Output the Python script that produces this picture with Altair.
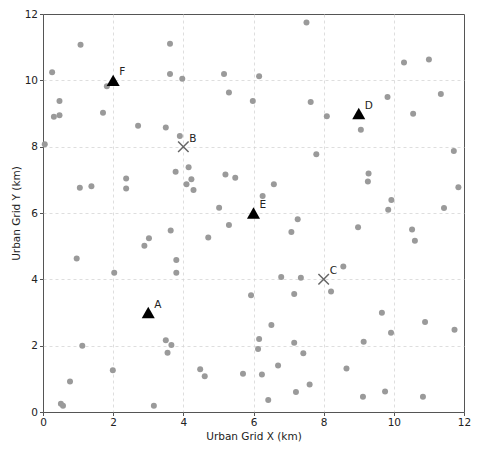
import altair as alt
import pandas as pd

# Background sample points (km)
pt_x = [1.07, 3.62, 0.26, 3.62, 1.82, 0.47, 0.31, 0.47, 1.71, 2.71, 3.50, 0.05,
        7.51, 3.97, 5.16, 6.16, 5.30, 5.98, 7.63, 3.90, 10.29, 11.00, 9.82, 11.34,
        8.09, 10.55, 9.06, 11.71, 7.79, 1.05, 1.38, 2.37, 2.37, 3.78, 3.64, 3.02,
        2.89, 0.96, 2.03, 3.80, 3.80, 4.15, 4.23, 4.09, 4.29, 5.20, 5.48, 6.58,
        6.26, 5.02, 5.30, 4.71, 7.26, 7.08, 6.79, 7.35, 9.28, 9.26, 11.84, 9.93,
        9.84, 11.43, 8.98, 10.52, 10.60, 8.56, 8.21, 1.12, 3.50, 3.66, 3.55, 1.99,
        0.77, 0.51, 0.57, 3.16, 5.93, 7.16, 6.51, 6.16, 6.13, 7.16, 7.42, 6.70,
        4.48, 4.61, 5.70, 6.24, 7.60, 7.21, 6.42, 9.66, 10.89, 11.73, 9.92, 9.14,
        8.65, 9.12, 9.75, 10.83]
pt_y = [11.07, 11.10, 10.24, 10.19, 9.82, 9.38, 8.90, 8.95, 9.02, 8.63, 8.58, 8.07,
        11.74, 10.05, 10.19, 10.12, 9.63, 9.38, 9.35, 8.32, 10.54, 10.63, 9.50, 9.59,
        8.92, 8.99, 8.51, 7.87, 7.77, 6.76, 6.81, 7.04, 6.74, 7.24, 5.47, 5.24,
        5.01, 4.63, 4.20, 4.58, 4.20, 7.38, 7.02, 6.87, 6.69, 7.16, 7.06, 6.87,
        6.51, 6.16, 5.64, 5.26, 5.81, 5.43, 4.07, 4.05, 7.19, 6.95, 6.78, 6.39,
        6.10, 6.15, 5.57, 5.50, 5.16, 4.39, 3.63, 2.00, 2.16, 2.02, 1.79, 1.26,
        0.92, 0.25, 0.19, 0.19, 3.52, 3.56, 2.62, 2.20, 1.90, 2.09, 1.77, 1.40,
        1.29, 1.08, 1.15, 1.13, 0.83, 0.60, 0.36, 2.99, 2.71, 2.48, 2.39, 2.12,
        1.31, 0.46, 0.62, 0.46]

# Triangle sites
tri_name = ["A", "D", "E", "F"]
tri_x = [3, 9, 6, 2]
tri_y = [3, 9, 6, 10]

# Cross sites
cross_name = ["B", "C"]
cross_x = [4, 8]
cross_y = [8, 4]

ticks = [0, 2, 4, 6, 8, 10, 12]
FONT = "DejaVu Sans"

df_pts = pd.DataFrame({"x": pt_x, "y": pt_y})
df_tri = pd.DataFrame({"name": tri_name, "x": tri_x, "y": tri_y})
df_cross = pd.DataFrame({"name": cross_name, "x": cross_x, "y": cross_y})

xs = alt.Scale(domain=[0, 12], nice=False, zero=False)
ys = alt.Scale(domain=[0, 12], nice=False, zero=False)

edge_grid = alt.condition("datum.value == 0 || datum.value == 12", alt.value(0), alt.value(1))

X = alt.X("x:Q", scale=xs, axis=alt.Axis(title="Urban Grid X (km)", values=ticks, format="d",
                                          labelFlush=False, gridOpacity=edge_grid))
Y = alt.Y("y:Q", scale=ys, axis=alt.Axis(title="Urban Grid Y (km)", values=ticks, format="d",
                                          labelFlush=False, gridOpacity=edge_grid))

points = alt.Chart(df_pts).mark_point(
    shape="circle", filled=True, size=36, color="#9a9a9a", opacity=1
).encode(x=X, y=Y)

tris = alt.Chart(df_tri).mark_point(
    shape="triangle-up", filled=True, size=170, color="black", opacity=1
).encode(x=X, y=Y)

crosses = alt.Chart(df_cross).mark_point(
    shape="M-1,-1L1,1M-1,1L1,-1", filled=False, size=110, color="#666666",
    strokeWidth=1.5, opacity=1
).encode(x=X, y=Y)

tri_lbl = alt.Chart(df_tri).mark_text(
    align="left", baseline="middle", dx=6, dy=-8, font=FONT, fontSize=10.5, color="#222222"
).encode(x=X, y=Y, text="name:N")

cross_lbl = alt.Chart(df_cross).mark_text(
    align="left", baseline="middle", dx=6, dy=-8, font=FONT, fontSize=10.5, color="#222222"
).encode(x=X, y=Y, text="name:N")

chart = alt.layer(points, crosses, tris, tri_lbl, cross_lbl).properties(
    width=421, height=398,
    autosize=alt.AutoSizeParams(type="none"),
    padding={"left": 35, "top": 6, "right": 8, "bottom": 31},
).configure_view(
    stroke="#555555", strokeWidth=1
).configure_axis(
    domain=False, grid=True, gridColor="#d5d5d5", gridDash=[3, 3], gridWidth=0.8,
    ticks=True, tickColor="#555555", tickSize=3.5, tickWidth=1,
    labelFont=FONT, labelFontSize=10.5, labelColor="#222222", labelPadding=2,
    titleFont=FONT, titleFontSize=10.5, titleFontWeight="normal", titleColor="#222222",
    titlePadding=3
)

chart.save("out.html", embed_options={"renderer": "svg", "actions": False})
